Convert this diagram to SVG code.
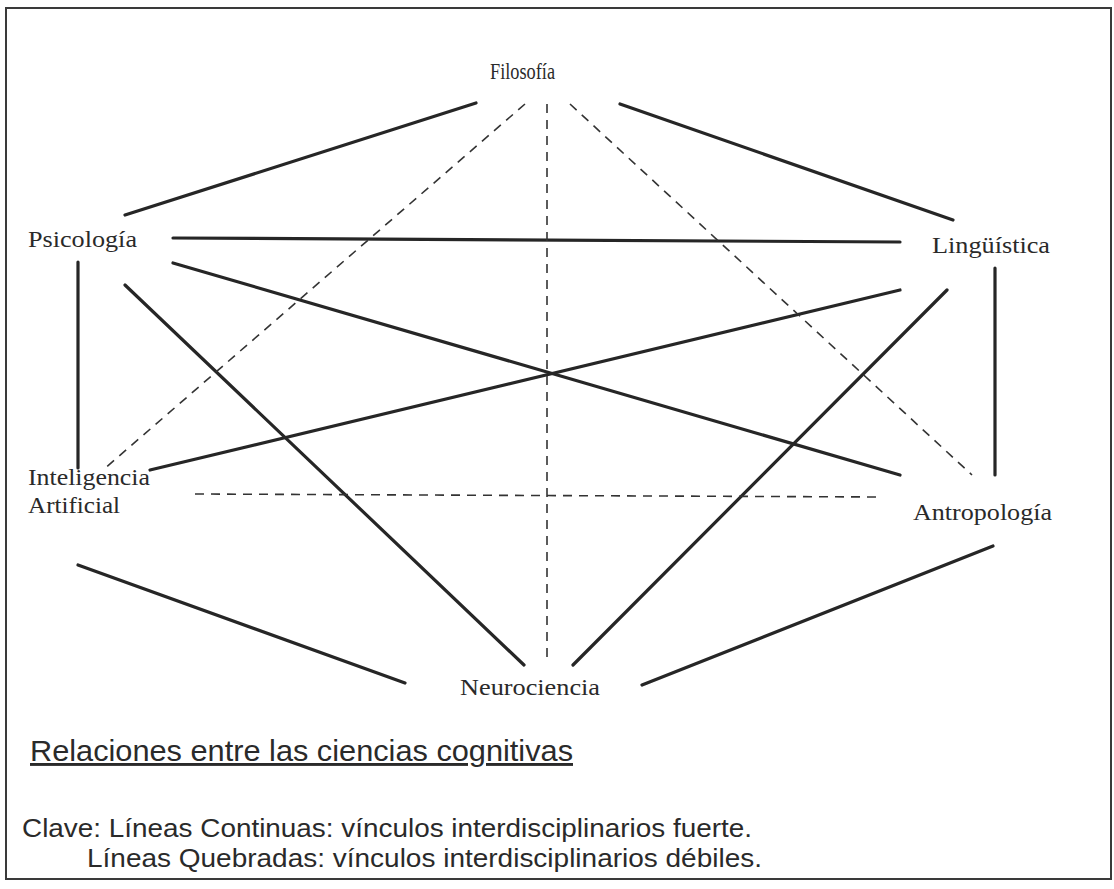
<svg xmlns="http://www.w3.org/2000/svg" width="1114" height="889" viewBox="0 0 1114 889">
  <style>
    .frame { fill: #ffffff; stroke: #3a3a3a; stroke-width: 2; }
    .strong { stroke: #262626; stroke-width: 3.2; stroke-linecap: round; fill: none; }
    .weak { stroke: #333333; stroke-width: 1.6; stroke-dasharray: 9 7; fill: none; }
    .label { font-family: "Liberation Serif", "Times New Roman", serif; font-size: 24px; fill: #2a2a2a; }
    .caption { font-family: "Liberation Sans", Arial, sans-serif; fill: #2a2a2a; }
  </style>

  <rect class="frame" x="6" y="8" width="1105" height="871"/>

  <!-- strong (solid) and weak (dashed) links between disciplines -->
  <g id="connectors">
    <line class="strong" x1="125" y1="215" x2="476" y2="103"/>
    <line class="strong" x1="620" y1="104" x2="953" y2="220"/>
    <line class="strong" x1="173" y1="238" x2="900" y2="242"/>
    <line class="strong" x1="173" y1="263" x2="900" y2="475"/>
    <line class="strong" x1="150" y1="470" x2="900" y2="290"/>
    <line class="strong" x1="125" y1="285" x2="524" y2="665"/>
    <line class="strong" x1="947" y1="290" x2="573" y2="665"/>
    <line class="strong" x1="78" y1="262" x2="78" y2="468"/>
    <line class="strong" x1="995" y1="268" x2="995" y2="475"/>
    <line class="strong" x1="78" y1="565" x2="405" y2="683"/>
    <line class="strong" x1="993" y1="546" x2="642" y2="685"/>

    <line class="weak" x1="525" y1="104" x2="103" y2="470"/>
    <line class="weak" x1="547" y1="104" x2="547" y2="660"/>
    <line class="weak" x1="570" y1="104" x2="972" y2="475"/>
    <line class="weak" x1="195" y1="494" x2="880" y2="497"/>
  </g>

  <g id="filosofia"><text class="label" x="490" y="79" font-size="23" textLength="65" lengthAdjust="spacingAndGlyphs">Filosofía</text></g>
  <g id="psicologia"><text class="label" x="28" y="247" textLength="109" lengthAdjust="spacingAndGlyphs">Psicología</text></g>
  <g id="linguistica"><text class="label" x="932" y="253" textLength="118" lengthAdjust="spacingAndGlyphs">Lingüística</text></g>
  <g id="inteligencia-artificial">
    <text class="label" x="28" y="485" textLength="122" lengthAdjust="spacingAndGlyphs">Inteligencia</text>
    <text class="label" x="28" y="513" textLength="92" lengthAdjust="spacingAndGlyphs">Artificial</text>
  </g>
  <g id="antropologia"><text class="label" x="913" y="520" textLength="139" lengthAdjust="spacingAndGlyphs">Antropología</text></g>
  <g id="neurociencia"><text class="label" x="460" y="695" textLength="140" lengthAdjust="spacingAndGlyphs">Neurociencia</text></g>

  <g id="caption">
    <text class="caption" x="30" y="761" font-size="29" textLength="543" lengthAdjust="spacingAndGlyphs" text-decoration="underline">Relaciones entre las ciencias cognitivas</text>
    <text class="caption" x="22" y="837" font-size="26" textLength="730" lengthAdjust="spacingAndGlyphs">Clave: Líneas Continuas: vínculos interdisciplinarios fuerte.</text>
    <text class="caption" x="87" y="867" font-size="26" textLength="675" lengthAdjust="spacingAndGlyphs">Líneas Quebradas: vínculos interdisciplinarios débiles.</text>
  </g>
</svg>
